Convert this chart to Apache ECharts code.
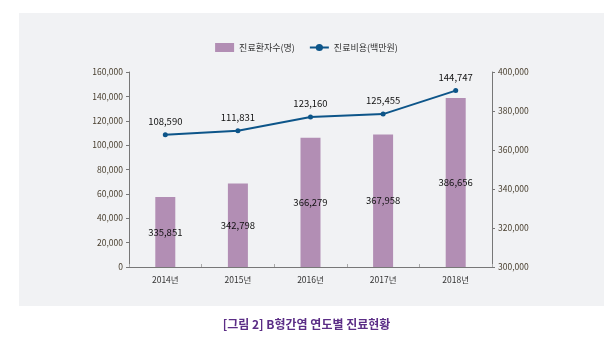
<!DOCTYPE html>
<html><head><meta charset="utf-8">
<script src="https://cdn.jsdelivr.net/npm/echarts@6/dist/echarts.min.js"></script>
<style>html,body{margin:0;padding:0;background:#fff}#c{width:613px;height:337px}</style>
</head><body><div id="c"></div>
<script>
const categories = ['2014년','2015년','2016년','2017년','2018년'];
const patients = [335851, 342798, 366279, 367958, 386656];
const costs = [108590, 111831, 123160, 125455, 144747];
const seriesNames = ['진료환자수(명)', '진료비용(백만원)'];
const captionText = '[그림 2] B형간염 연도별 진료현황';
const FONT = '"Noto Sans CJK KR", "Noto Sans", sans-serif';
const fmt = v => v.toLocaleString('en-US');
const chart = echarts.init(document.getElementById('c'), null, {renderer:'canvas'});
chart.setOption({
  backgroundColor: '#ffffff',
  animation: false,
  textStyle: {fontFamily: FONT},
  graphic: [{type:'rect', z:-10, shape:{x:19,y:13,width:585,height:293}, style:{fill:'#f1f2f4'}}],
  title: {text: captionText, left: 'center', top: 313,
    textStyle:{fontSize:12, fontWeight:'bold', color:'#5b2d86', fontFamily: FONT}},
  legend: {top: 38, left: 'center', itemGap: 14, itemWidth: 19, itemHeight: 9,
    textStyle:{fontSize:9, color:'#333', fontFamily: FONT},
    data: [{name: seriesNames[0], icon:'rect'}, {name: seriesNames[1]}]},
  grid: {left:129, right:121, top:72, bottom:70, containLabel:false},
  xAxis: {type:'category', data: categories, boundaryGap: true,
    axisLine:{lineStyle:{color:'#777', width:1}},
    axisTick:{show:true, inside:true, length:3, lineStyle:{color:'#aaa'}},
    axisLabel:{fontSize:8.5, color:'#333', margin:9}},
  yAxis: [
    {type:'value', min:0, max:160000, interval:20000, position:'left',
     axisLine:{show:true, lineStyle:{color:'#777'}},
     axisTick:{show:true, length:3, lineStyle:{color:'#777'}},
     splitLine:{show:false},
     axisLabel:{fontSize:8.5, color:'#4a4030', margin:6, formatter: v => fmt(v)}},
    {type:'value', min:300000, max:400000, interval:20000, position:'right',
     axisLine:{show:true, lineStyle:{color:'#777'}},
     axisTick:{show:true, length:3, lineStyle:{color:'#777'}},
     splitLine:{show:false},
     axisLabel:{fontSize:8.5, color:'#4a4030', margin:6, formatter: v => fmt(v)}}
  ],
  series: [
    {name: seriesNames[0], type:'bar', yAxisIndex:1, data: patients, barWidth:20,
     itemStyle:{color:'#b28eb4'},
     label:{show:true, position:'inside', color:'#111', fontSize:9.5, formatter: p => fmt(p.value)}},
    {name: seriesNames[1], type:'line', yAxisIndex:0, data: costs,
     symbol:'circle', symbolSize:5, lineStyle:{color:'#0d5589', width:2},
     itemStyle:{color:'#0d5589'},
     label:{show:true, position:'top', distance:6, color:'#111', fontSize:9.5, formatter: p => fmt(p.value)}}
  ]
});
</script></body></html>
